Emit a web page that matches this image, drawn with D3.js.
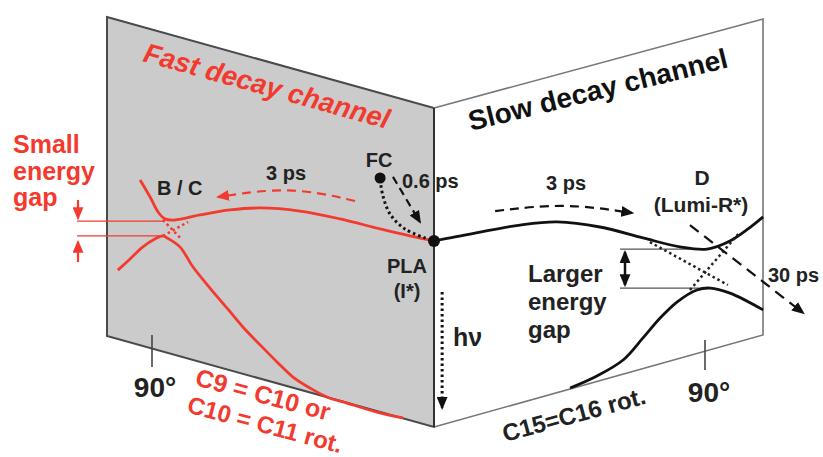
<!DOCTYPE html>
<html>
<head>
<meta charset="utf-8">
<script src="https://cdn.jsdelivr.net/npm/d3@7"></script>
<style>
  body { margin: 0; background: #fff; }
  text { font-family: "Liberation Sans", Arial, sans-serif; font-weight: bold; }
</style>
</head>
<body>
<svg width="823" height="457"></svg>
<script>
// potential energy curves, [torsion angle (deg), energy (arb. units)]
// fast channel = C9=C10 / C10=C11 rotation, slow channel = C15=C16 rotation
var fastUpper = [[93.8,8.93],[90.6,8.32],[88.1,7.79],[85.9,7.54],[82.7,7.50],[74.7,7.68],[65.1,7.86],
  [55.5,7.93],[42.8,7.82],[30.0,7.54],[17.2,7.18],[7.7,6.93],[0,6.75]];
var fastLower = [[100.9,5.71],[97.0,6.11],[92.9,6.54],[89.1,6.82],[86.5,6.93],[85.2,6.86],[81.1,6.54],
  [76.9,5.82],[71.5,5.07],[66.1,4.36],[61.0,3.68],[55.5,3.04],[50.1,2.43],[45.0,1.89],[39.6,1.50],
  [34.2,1.18],[27.8,0.96],[18.2,0.64],[9.9,0.43]];
var slowUpper = [[0,6.75],[5.3,6.86],[15.3,7.07],[28.6,7.32],[40.9,7.43],[55.1,7.25],[69.4,6.86],
  [81.7,6.54],[90.7,6.46],[98.3,6.75],[104.3,7.18],[109.3,7.61]];
var slowLower = [[45.2,1.50],[54.1,1.93],[62.8,2.50],[69.4,3.29],[75.1,4.00],[80.7,4.57],[87.3,5.00],
  [91.7,5.07],[98.3,4.89],[109.3,4.29]];

// diabatic (dotted) continuations through the crossings
var fastDiabatic = [[[86.5,7.50],[80.4,6.79]], [[86.5,6.93],[78.5,7.43]]];
var slowDiabatic = [[[71.7,6.71],[97.6,5.18]], [[85.0,5.00],[101.6,7.07]]];

// energy gaps at the avoided crossings [upper, lower, angle]
var fastGap = [7.46, 6.93, 86];
var slowGap = [6.46, 5.07, 91];

// decay pathways
var fcPoint = [17.2, 9.0];
var plaPoint = [0, 6.75];
var fcToPla = [[17.2,8.93],[16.3,8.36],[14.0,7.71],[9.3,7.18],[1.9,6.82]];
var fastArrow = [[25.2,8.18],[46.0,8.71],[68.9,8.32]];
var slowArrow = [[20.3,7.82],[43.5,8.11],[65.8,7.75]];
var fcArrow = [[13.1,9.04],[4.5,7.43]];
var lumiArrow = [[85.0,7.32],[122.6,4.18]];
var hvArrow = [[2.7,4.93],[2.7,0.79]];

var svg = d3.select("svg");
var red = "#f23a2e";

var xL = d3.scaleLinear().domain([0, 90]).range([434, 152]);
var xR = d3.scaleLinear().domain([0, 90]).range([434, 705]);
var yE = d3.scaleLinear().domain([0, 10]).range([430, 150]);

var lineL = d3.line().x(function(d) { return xL(d[0]); }).y(function(d) { return yE(d[1]); })
  .curve(d3.curveCatmullRom.alpha(0.5));
var lineR = d3.line().x(function(d) { return xR(d[0]); }).y(function(d) { return yE(d[1]); })
  .curve(d3.curveCatmullRom.alpha(0.5));

// arrow markers
var defs = svg.append("defs");
[["black", "#111"], ["red", red]].forEach(function(m) {
  defs.append("marker")
    .attr("id", "arr-" + m[0])
    .attr("viewBox", "0 0 12 10")
    .attr("refX", 10).attr("refY", 5)
    .attr("markerUnits", "userSpaceOnUse")
    .attr("markerWidth", 13).attr("markerHeight", 11)
    .attr("orient", "auto-start-reverse")
    .append("path").attr("d", "M0,0 L12,5 L0,10 Z").attr("fill", m[1]);
});

// the two faces
svg.append("polygon")
  .attr("points", "107,17 434,108 434,427 107,336")
  .attr("fill", "#cbcbcb").attr("stroke", "#4a4a4a").attr("stroke-width", 2);
svg.append("polygon")
  .attr("points", "434,108 763,19 763,335 434,427")
  .attr("fill", "#fff").attr("stroke", "#777").attr("stroke-width", 1.6);
svg.append("line").attr("x1", 434).attr("y1", 108).attr("x2", 434).attr("y2", 427)
  .attr("stroke", "#333").attr("stroke-width", 2);

// 90 degree ticks
svg.append("line").attr("x1", xL(90)).attr("x2", xL(90)).attr("y1", 335).attr("y2", 367)
  .attr("stroke", "#444").attr("stroke-width", 1.6);
svg.append("line").attr("x1", xR(90)).attr("x2", xR(90)).attr("y1", 340).attr("y2", 370)
  .attr("stroke", "#444").attr("stroke-width", 1.6);

// gap marker lines
[fastGap[0], fastGap[1]].forEach(function(e) {
  svg.append("line").attr("x1", 77).attr("x2", xL(fastGap[2])).attr("y1", yE(e)).attr("y2", yE(e))
    .attr("stroke", red).attr("stroke-width", 1.3);
});
[slowGap[0], slowGap[1]].forEach(function(e) {
  svg.append("line").attr("x1", 620).attr("x2", xR(slowGap[2])).attr("y1", yE(e)).attr("y2", yE(e))
    .attr("stroke", "#555").attr("stroke-width", 1.3);
});

// curves
svg.append("path").attr("d", lineL(fastUpper)).attr("fill", "none").attr("stroke", red).attr("stroke-width", 2.8);
svg.append("path").attr("d", lineL(fastLower)).attr("fill", "none").attr("stroke", red).attr("stroke-width", 2.8);
svg.append("path").attr("d", lineR(slowUpper)).attr("fill", "none").attr("stroke", "#111").attr("stroke-width", 2.8);
svg.append("path").attr("d", lineR(slowLower)).attr("fill", "none").attr("stroke", "#111").attr("stroke-width", 2.8);

fastDiabatic.forEach(function(seg) {
  svg.append("path").attr("d", lineL(seg)).attr("fill", "none").attr("stroke", red)
    .attr("stroke-width", 2.5).attr("stroke-dasharray", "2.5,3");
});
slowDiabatic.forEach(function(seg) {
  svg.append("path").attr("d", lineR(seg)).attr("fill", "none").attr("stroke", "#222")
    .attr("stroke-width", 2.5).attr("stroke-dasharray", "2.5,3");
});

// pathways
var curvL = d3.line().x(function(d) { return xL(d[0]); }).y(function(d) { return yE(d[1]); }).curve(d3.curveBasis);
var curvR = d3.line().x(function(d) { return xR(d[0]); }).y(function(d) { return yE(d[1]); }).curve(d3.curveBasis);

svg.append("path").attr("d", curvL(fastArrow)).attr("fill", "none").attr("stroke", red)
  .attr("stroke-width", 2.2).attr("stroke-dasharray", "9,6").attr("marker-end", "url(#arr-red)");
svg.append("path").attr("d", curvR(slowArrow)).attr("fill", "none").attr("stroke", "#111")
  .attr("stroke-width", 2.2).attr("stroke-dasharray", "9,6").attr("marker-end", "url(#arr-black)");
svg.append("path").attr("d", curvL(fcArrow)).attr("fill", "none").attr("stroke", "#111")
  .attr("stroke-width", 2.2).attr("stroke-dasharray", "8,5").attr("marker-end", "url(#arr-black)");
svg.append("path").attr("d", curvR(lumiArrow)).attr("fill", "none").attr("stroke", "#111")
  .attr("stroke-width", 2.2).attr("stroke-dasharray", "11,7").attr("marker-end", "url(#arr-black)");
svg.append("path").attr("d", lineL(fcToPla)).attr("fill", "none").attr("stroke", "#111")
  .attr("stroke-width", 3).attr("stroke-dasharray", "2.5,3");
svg.append("path").attr("d", curvR(hvArrow)).attr("fill", "none").attr("stroke", "#111")
  .attr("stroke-width", 3).attr("stroke-dasharray", "2.5,3").attr("marker-end", "url(#arr-black)");

// small energy gap arrows and larger energy gap double arrow
svg.append("line").attr("x1", 78).attr("x2", 78).attr("y1", 200).attr("y2", yE(fastGap[0]) - 3)
  .attr("stroke", red).attr("stroke-width", 2.2).attr("marker-end", "url(#arr-red)");
svg.append("line").attr("x1", 78).attr("x2", 78).attr("y1", 262).attr("y2", yE(fastGap[1]) + 6)
  .attr("stroke", red).attr("stroke-width", 2.2).attr("marker-end", "url(#arr-red)");
svg.append("line").attr("x1", 625).attr("x2", 625).attr("y1", yE(slowGap[0]) + 3).attr("y2", yE(slowGap[1]) - 3)
  .attr("stroke", "#111").attr("stroke-width", 2.5)
  .attr("marker-start", "url(#arr-black)").attr("marker-end", "url(#arr-black)");

// FC and PLA points
svg.append("circle").attr("cx", xL(fcPoint[0])).attr("cy", yE(fcPoint[1])).attr("r", 5.5).attr("fill", "#111");
svg.append("circle").attr("cx", xL(plaPoint[0])).attr("cy", yE(plaPoint[1])).attr("r", 6).attr("fill", "#111");

// labels
var labels = [
  {t: "Fast decay channel", x: 142, y: 61, rot: 15.5, size: 27.5, fill: red, italic: true},
  {t: "Slow decay channel", x: 471, y: 131, rot: -13.9, size: 28, fill: "#111"},
  {t: "Small", x: 13, y: 153, size: 25, fill: red},
  {t: "energy", x: 13, y: 180, size: 25, fill: red},
  {t: "gap", x: 13, y: 206, size: 25, fill: red},
  {t: "B / C", x: 157, y: 195, size: 20, fill: "#222"},
  {t: "3 ps", x: 286, y: 180, size: 20, fill: "#222", anchor: "middle"},
  {t: "FC", x: 379, y: 167, size: 20, fill: "#222", anchor: "middle"},
  {t: "0.6 ps", x: 402, y: 188, size: 20, fill: "#222"},
  {t: "3 ps", x: 566, y: 190, size: 20, fill: "#222", anchor: "middle"},
  {t: "D", x: 702, y: 185, size: 21, fill: "#222", anchor: "middle"},
  {t: "(Lumi-R*)", x: 701, y: 212, size: 21, fill: "#222", anchor: "middle"},
  {t: "PLA", x: 407, y: 273, size: 20, fill: "#222", anchor: "middle"},
  {t: "(I*)", x: 407, y: 298, size: 20, fill: "#222", anchor: "middle"},
  {t: "h\u03bd", x: 453, y: 346, size: 25, fill: "#222"},
  {t: "Larger", x: 528, y: 282, size: 24, fill: "#222"},
  {t: "energy", x: 528, y: 310, size: 24, fill: "#222"},
  {t: "gap", x: 528, y: 338, size: 24, fill: "#222"},
  {t: "30 ps", x: 768, y: 282, size: 20, fill: "#222"},
  {t: "90°", x: 155, y: 397, size: 28, fill: "#222", anchor: "middle"},
  {t: "90°", x: 709, y: 402, size: 28, fill: "#222", anchor: "middle"},
  {t: "C15=C16 rot.", x: 505, y: 442, rot: -15.2, size: 24, fill: "#222"},
  {t: "C9 = C10 or", x: 194, y: 385, rot: 15, size: 25, fill: red},
  {t: "C10 = C11 rot.", x: 186, y: 412, rot: 15, size: 24, fill: red}
];

svg.selectAll("text.lbl")
  .data(labels)
  .enter().append("text")
  .attr("class", "lbl")
  .attr("transform", function(d) {
    return "translate(" + d.x + "," + d.y + ")" + (d.rot ? " rotate(" + d.rot + ")" : "");
  })
  .attr("text-anchor", function(d) { return d.anchor || "start"; })
  .attr("font-size", function(d) { return d.size; })
  .attr("font-style", function(d) { return d.italic ? "italic" : "normal"; })
  .attr("fill", function(d) { return d.fill; })
  .text(function(d) { return d.t; });
</script>
</body>
</html>
